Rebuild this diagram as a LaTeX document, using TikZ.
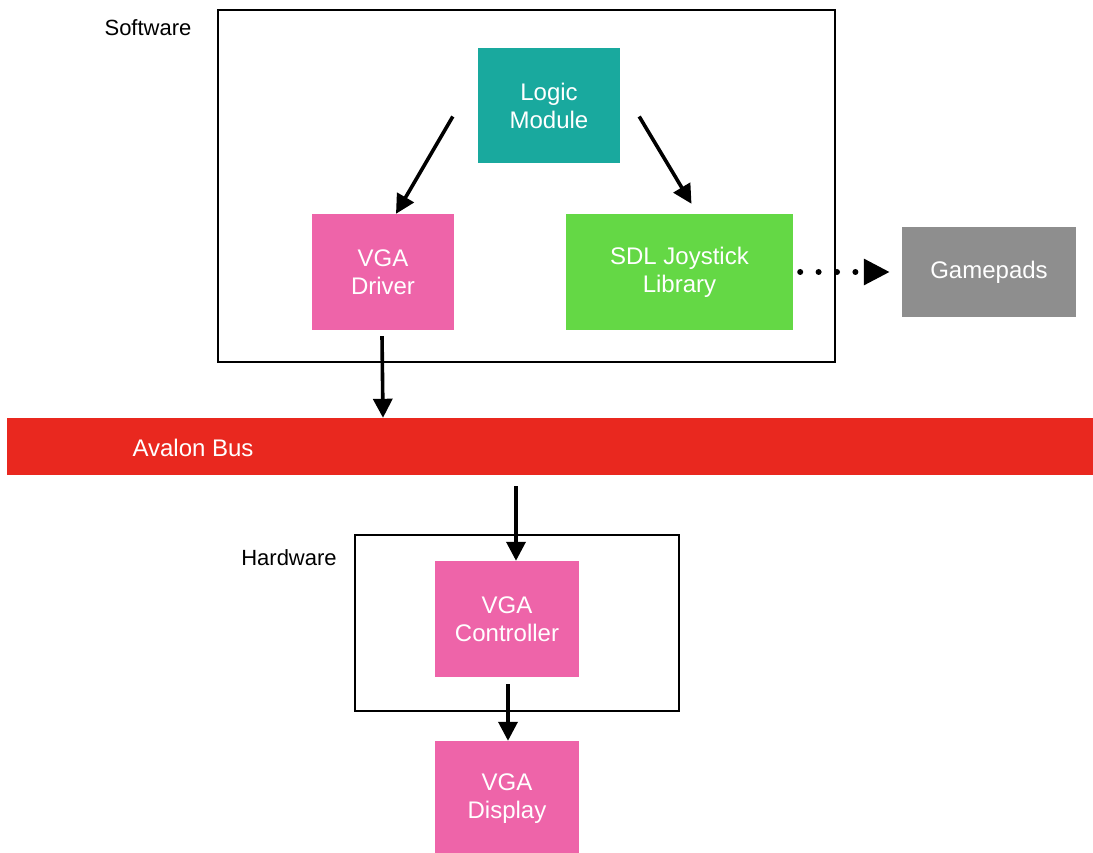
\documentclass[tikz,border=0pt]{standalone}
\usepackage{fontspec}
\setmainfont{Liberation Sans}
\usetikzlibrary{arrows.meta,calc}
\definecolor{teal1}{HTML}{19A99E}
\definecolor{pink1}{HTML}{EE64A9}
\definecolor{green1}{HTML}{64D845}
\definecolor{gray1}{HTML}{8E8E8E}
\definecolor{red1}{HTML}{E9281F}
\tikzset{
  blk/.style={draw=none,text=white,align=center,inner sep=0pt,font=\fontsize{24}{28}\selectfont},
  frame/.style={draw=black,line width=1.8pt,fill=none},
  lbl/.style={font=\fontsize{22}{24}\selectfont,inner sep=0pt},
  arr/.style={line width=3.6pt,-{Triangle[length=19pt,width=19pt]}},
  dotarr/.style={line width=6pt,dash pattern=on 0pt off 18.4pt,line cap=round,-{Triangle[length=26pt,width=25pt]}}
}
\begin{document}
\begin{tikzpicture}[x=1pt,y=1pt]
\useasboundingbox (0,0) rectangle (1093,-853);
% frames
\draw[frame] (218,-10) rectangle (835,-362);
\draw[frame] (355,-535) rectangle (679,-711);
\node[lbl] (swl) at (148,-28) {Software};
\node[lbl] (hwl) at (289,-558) {Hardware};
% blocks
\node[blk,fill=teal1,minimum width=142pt,minimum height=115pt] (logic) at (549,-105.5) {Logic\\Module};
\node[blk,fill=pink1,minimum width=142pt,minimum height=116pt] (vgad) at (383,-272) {VGA\\Driver};
\node[blk,fill=green1,minimum width=227pt,minimum height=116pt] (sdl) at (679.5,-272) {SDL Joystick\\Library};
\node[blk,fill=gray1,minimum width=174pt,minimum height=90pt] (pad) at (989,-272) {Gamepads};
\node[blk,fill=red1,minimum width=1086pt,minimum height=57pt] (bus) at (550,-446.5) {};
\node[blk,anchor=center] (busl) at (193,-448) {Avalon Bus};
\node[blk,fill=pink1,minimum width=144pt,minimum height=116pt] (vgac) at (507,-619) {VGA\\Controller};
\node[blk,fill=pink1,minimum width=144pt,minimum height=116pt] (vgadisp) at (507,-799) {VGA\\Display};
% connectors
\draw[arr] ($(logic.west)+(-25,-11)$) -- ($(vgad.north)+(13,0)$);
\draw[arr] ($(logic.east)+(19,-11)$) -- ($(sdl.north)+(12,10)$);
\draw[arr] ($(vgad.south)+(-1,-6)$) -- (vgad.south |- bus.north);
\draw[arr] ($(bus.south)+(-34,-11)$) -- ($(vgac.north)+(9,0)$);
\draw[arr] ($(vgac.south)+(1,-7)$) -- ($(vgadisp.north)+(1,0)$);
\draw[dotarr] ($(sdl.east)+(7,0)$) -- ($(pad.west)+(-12,0)$);
\end{tikzpicture}
\end{document}
